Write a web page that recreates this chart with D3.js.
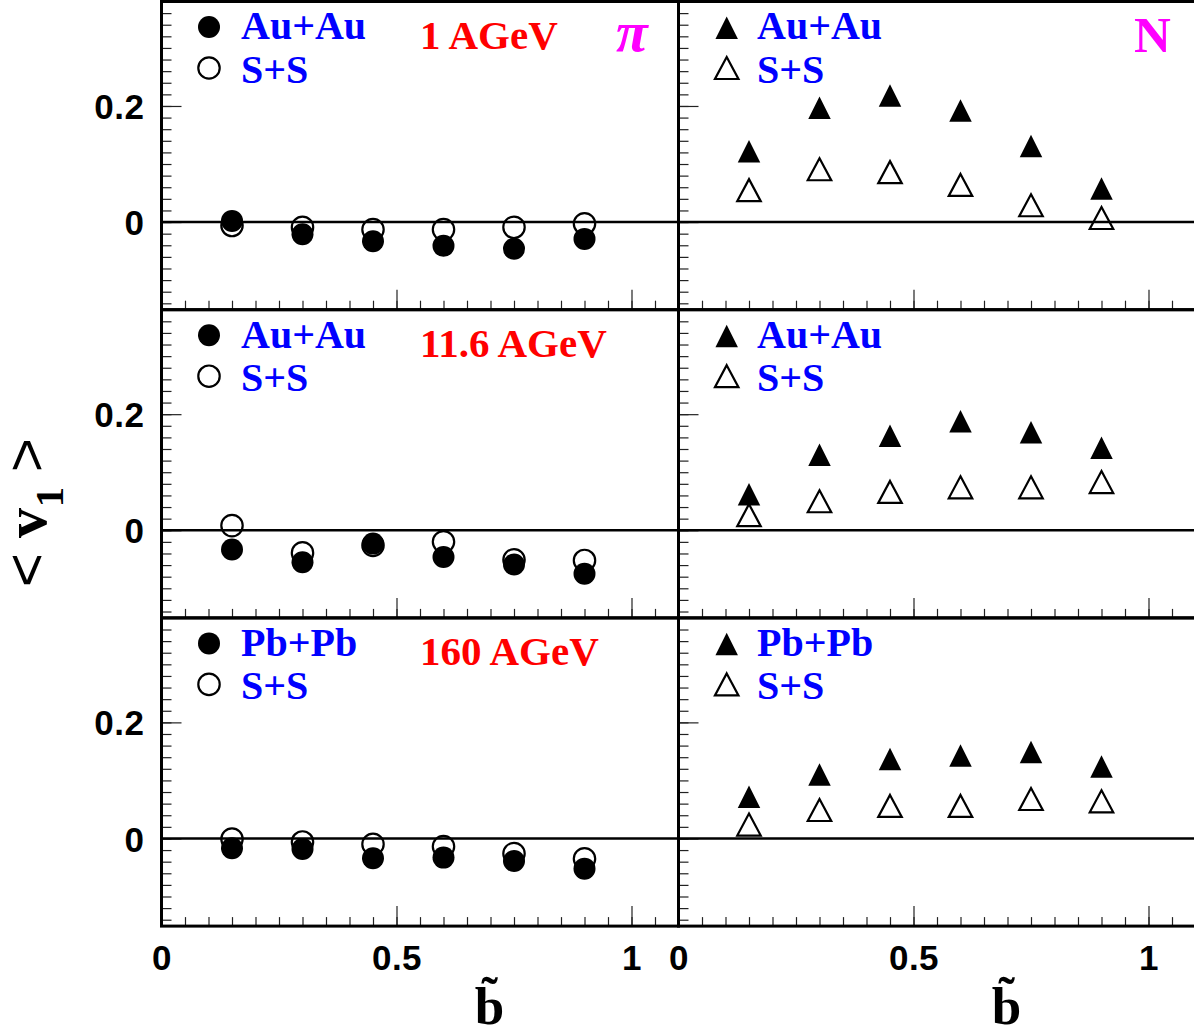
<!DOCTYPE html>
<html>
<head>
<meta charset="utf-8">
<script src="https://cdn.jsdelivr.net/npm/d3@7"></script>
<style>
  html, body { margin: 0; padding: 0; background: #fff; }
  svg { display: block; }
</style>
</head>
<body>
<svg id="chart" width="1194" height="1036"></svg>
<script>
// Reduced impact parameter values shared by every panel
const bValues = [0.15, 0.30, 0.45, 0.60, 0.75, 0.90];

// Directed flow <v1> of pions (left column)
const pionHeavy1 = [0.002, -0.021, -0.033, -0.041, -0.046, -0.029];
const pionSS1    = [-0.006, -0.009, -0.013, -0.013, -0.009, -0.003];
const pionHeavy2 = [-0.033, -0.055, -0.023, -0.046, -0.059, -0.075];
const pionSS2    = [0.008, -0.039, -0.026, -0.020, -0.051, -0.052];
const pionHeavy3 = [-0.017, -0.018, -0.034, -0.033, -0.039, -0.052];
const pionSS3    = [-0.001, -0.006, -0.010, -0.014, -0.026, -0.035];

// Directed flow <v1> of nucleons (right column)
const nucHeavy1 = [0.122, 0.197, 0.218, 0.192, 0.131, 0.058];
const nucSS1    = [0.055, 0.091, 0.086, 0.064, 0.029, 0.007];
const nucHeavy2 = [0.062, 0.130, 0.163, 0.188, 0.169, 0.142];
const nucSS2    = [0.026, 0.050, 0.066, 0.074, 0.074, 0.083];
const nucHeavy3 = [0.072, 0.110, 0.137, 0.143, 0.149, 0.124];
const nucSS3    = [0.024, 0.049, 0.056, 0.056, 0.068, 0.064];

// Row annotations
const energyLabels = ["1 AGeV", "11.6 AGeV", "160 AGeV"];
const heavySystems = ["Au+Au", "Au+Au", "Pb+Pb"];
const lightSystem = "S+S";
const particleLabels = ["π", "N"];

// Axis ticks
const yMajorTicks = [0, 0.2];
const yTickLabels = ["0", "0.2"];
const xMajorTicks = [0, 0.5, 1];
const xTickLabels = ["0", "0.5", "1"];
const yMinorTicks = d3.range(-0.14, 0.3601, 0.02).map(v => +v.toFixed(2));
const xMinorTicks = d3.range(0.05, 1.0501, 0.05).map(v => +v.toFixed(2));

const rows = [
  { pionHeavy: pionHeavy1, pionSS: pionSS1, nucHeavy: nucHeavy1, nucSS: nucSS1 },
  { pionHeavy: pionHeavy2, pionSS: pionSS2, nucHeavy: nucHeavy2, nucSS: nucSS2 },
  { pionHeavy: pionHeavy3, pionSS: pionSS3, nucHeavy: nucHeavy3, nucSS: nucSS3 }
];

// ---- layout ----
const colX = [161.5, 678.5];
const panelW = 517;
const rowTop = [1.5, 309.7, 617.9];
const panelH = 308.2;
const yDomain = [-0.151, 0.38];
const xDomain = [0, 1.1];

const BLUE = "#0000ff", RED = "#ff0000", MAGENTA = "#ff00ff";
const SANS = "'Liberation Sans', Arial, Helvetica, sans-serif";
const SERIF = "'Liberation Serif', 'Times New Roman', serif";

const svg = d3.select("#chart");

// triangle with its bounding box centred on the origin
function triPath(w, h) {
  return `M0,${-h / 2}L${w / 2},${h / 2}L${-w / 2},${h / 2}Z`;
}

function styleAxis(g, labelled) {
  g.select(".domain").remove();
  g.selectAll(".tick line").attr("stroke", "#222").attr("stroke-width", 1.2);
  g.selectAll(".tick text")
    .attr("fill", "#000")
    .style("font-family", SANS)
    .style("font-weight", "bold")
    .style("font-size", "35px")
    .style("letter-spacing", "0.5px")
    .style("display", labelled ? null : "none");
}

rows.forEach((row, r) => {
  [0, 1].forEach(c => {
    const x0 = colX[c], y0 = rowTop[r];
    const x = d3.scaleLinear().domain(xDomain).range([x0, x0 + panelW]);
    const y = d3.scaleLinear().domain(yDomain).range([y0 + panelH, y0]);
    const g = svg.append("g");

    // y ticks (inside, pointing right)
    g.append("g").attr("transform", `translate(${x0},0)`)
      .call(d3.axisLeft(y).tickValues(yMinorTicks).tickSize(-10).tickFormat(""))
      .call(a => styleAxis(a, false));
    g.append("g").attr("transform", `translate(${x0},0)`)
      .call(d3.axisLeft(y).tickValues(yMajorTicks).tickSize(-20).tickPadding(17)
        .tickFormat((d, i) => yTickLabels[i]))
      .call(a => styleAxis(a, c === 0))
      .call(a => a.selectAll(".tick text").attr("dy", "0.36em"));

    // x ticks (inside, pointing up)
    g.append("g").attr("transform", `translate(0,${y0 + panelH})`)
      .call(d3.axisBottom(x).tickValues(xMinorTicks).tickSize(-9).tickFormat(""))
      .call(a => styleAxis(a, false));
    g.append("g").attr("transform", `translate(0,${y0 + panelH})`)
      .call(d3.axisBottom(x).tickValues(xMajorTicks).tickSize(-20).tickPadding(19)
        .tickFormat((d, i) => xTickLabels[i]))
      .call(a => styleAxis(a, r === 2));

    // zero line
    g.append("line")
      .attr("x1", x0).attr("x2", x0 + panelW)
      .attr("y1", y(0)).attr("y2", y(0))
      .attr("stroke", "#000").attr("stroke-width", 2.5);

    const heavy = c === 0 ? row.pionHeavy : row.nucHeavy;
    const light = c === 0 ? row.pionSS : row.nucSS;
    const pts = arr => arr.map((v, i) => ({ b: bValues[i], v }));

    if (c === 0) {
      g.append("g").selectAll("circle").data(pts(light)).join("circle")
        .attr("cx", d => x(d.b)).attr("cy", d => y(d.v)).attr("r", 10.7)
        .attr("fill", "none").attr("stroke", "#000").attr("stroke-width", 2.2);
      g.append("g").selectAll("circle").data(pts(heavy)).join("circle")
        .attr("cx", d => x(d.b)).attr("cy", d => y(d.v)).attr("r", 11)
        .attr("fill", "#000");
    } else {
      g.append("g").selectAll("path").data(pts(light)).join("path")
        .attr("d", triPath(23.5, 22))
        .attr("transform", d => `translate(${x(d.b)},${y(d.v)})`)
        .attr("fill", "none").attr("stroke", "#000").attr("stroke-width", 2.2)
        .attr("stroke-linejoin", "miter");
      g.append("g").selectAll("path").data(pts(heavy)).join("path")
        .attr("d", triPath(22.5, 22.5))
        .attr("transform", d => `translate(${x(d.b)},${y(d.v)})`)
        .attr("fill", "#000");
    }

    // legend
    const lx = c === 0 ? 209 : 726.7;
    const tx = c === 0 ? 241 : 757;
    if (c === 0) {
      g.append("circle").attr("cx", lx).attr("cy", y0 + 25.5).attr("r", 11).attr("fill", "#000");
      g.append("circle").attr("cx", lx).attr("cy", y0 + 66.5).attr("r", 10.7)
        .attr("fill", "none").attr("stroke", "#000").attr("stroke-width", 2.2);
    } else {
      g.append("path").attr("d", triPath(22.5, 22.5))
        .attr("transform", `translate(${lx},${y0 + 26.2})`).attr("fill", "#000");
      g.append("path").attr("d", triPath(23.5, 22))
        .attr("transform", `translate(${lx},${y0 + 66.5})`)
        .attr("fill", "none").attr("stroke", "#000").attr("stroke-width", 2.2);
    }
    const legText = [heavySystems[r], lightSystem];
    g.selectAll("text.leg").data(legText).join("text").attr("class", "leg")
      .attr("x", tx).attr("y", (d, i) => y0 + (i === 0 ? 37.8 : 81.5))
      .attr("fill", BLUE)
      .style("font-family", SERIF).style("font-weight", "bold").style("font-size", "40px")
      .text(d => d);

    if (c === 0) {
      g.append("text").attr("x", 420).attr("y", y0 + 47.5)
        .attr("fill", RED)
        .style("font-family", SERIF).style("font-weight", "bold").style("font-size", "41px")
        .text(energyLabels[r]);
    }
  });
});

// particle labels in the top row
svg.append("text").attr("x", 616).attr("y", 51)
  .attr("fill", MAGENTA)
  .style("font-family", SERIF).style("font-weight", "bold").style("font-style", "italic")
  .style("font-size", "58px")
  .text(particleLabels[0]);
svg.append("text").attr("x", 1134).attr("y", 52)
  .attr("fill", MAGENTA)
  .style("font-family", SERIF).style("font-weight", "bold").style("font-size", "51px")
  .text(particleLabels[1]);

// panel frames
rowTop.forEach(t => colX.forEach(l => {
  svg.append("rect").attr("x", l).attr("y", t).attr("width", panelW).attr("height", panelH)
    .attr("fill", "none").attr("stroke", "#000").attr("stroke-width", 3);
}));

// x axis titles: b with a tilde
[489.5, 1006.5].forEach(cx => {
  svg.append("text").attr("x", cx).attr("y", 1024).attr("text-anchor", "middle")
    .style("font-family", SERIF).style("font-weight", "bold").style("font-size", "53px")
    .text("b");
  svg.append("text").attr("x", cx).attr("y", 1012).attr("text-anchor", "middle")
    .style("font-family", SERIF).style("font-weight", "bold").style("font-size", "50px")
    .text("˜");
});

// y axis title <v1>, read bottom to top
const yt = svg.append("g").attr("transform", "translate(46,512) rotate(-90)");
yt.append("text").attr("x", -58).attr("y", 0).attr("text-anchor", "middle")
  .style("font-family", SANS).style("font-size", "58px").text("<");
yt.append("text").attr("x", -11).attr("y", 0).attr("text-anchor", "middle")
  .style("font-family", SERIF).style("font-weight", "bold").style("font-size", "60px").text("v");
yt.append("text").attr("x", 15).attr("y", 17).attr("text-anchor", "middle")
  .style("font-family", SERIF).style("font-weight", "bold").style("font-size", "41px").text("1");
yt.append("text").attr("x", 57).attr("y", 0).attr("text-anchor", "middle")
  .style("font-family", SANS).style("font-size", "58px").text(">");
</script>
</body>
</html>
